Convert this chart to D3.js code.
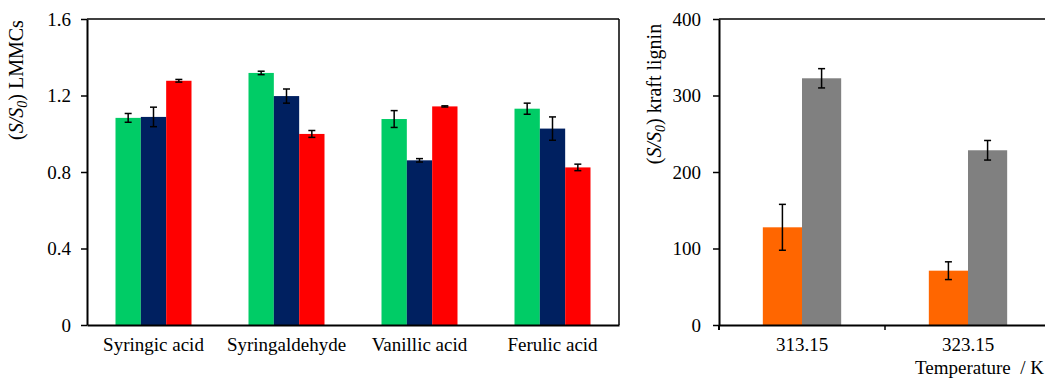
<!DOCTYPE html>
<html>
<head>
<meta charset="utf-8">
<script src="https://cdn.jsdelivr.net/npm/d3@7"></script>
<style>
  body { margin: 0; background: #fff; }
  svg { display: block; font-family: "Liberation Serif", "Times New Roman", serif; }
  .tick text { font-size: 19px; fill: #000; }
</style>
</head>
<body>
<div id="vis"></div>
<script>
// chart data
const CATEGORIES = ["Syringic acid", "Syringaldehyde", "Vanillic acid", "Ferulic acid"];
const SERIES_GREEN = [1.083, 1.318, 1.077, 1.131];
const ERR_GREEN = [0.023, 0.009, 0.044, 0.029];
const SERIES_NAVY = [1.088, 1.197, 0.861, 1.027];
const ERR_NAVY = [0.051, 0.037, 0.009, 0.061];
const SERIES_RED = [1.277, 0.999, 1.143, 0.824];
const ERR_RED = [0.007, 0.018, 0.003, 0.017];
const LEFT_TICKS = [0, 0.4, 0.8, 1.2, 1.6];

const TEMPS = ["313.15", "323.15"];
const SERIES_ORANGE = [127.7, 71];
const ERR_ORANGE = [30, 11.6];
const SERIES_GRAY = [322.5, 228.4];
const ERR_GRAY = [12.6, 12.8];
const RIGHT_TICKS = [0, 100, 200, 300, 400];

const WIDTH = 1045;
const HEIGHT = 378;

const SVG = d3.select('#vis')
              .append('svg')
                .attr('width', WIDTH)
                .attr('height', HEIGHT);

// draws one grouped bar panel with error bars
function drawPanel(opts) {
    const g = SVG.append('g');

    const X0 = d3.scaleBand()
                 .domain(opts.categories)
                 .range([opts.left, opts.right])
                 .paddingInner(opts.pad)
                 .paddingOuter(opts.pad / 2);

    const X1 = d3.scaleBand()
                 .domain(opts.series.map((s, i) => i))
                 .range([0, X0.bandwidth()]);

    const Y = d3.scaleLinear()
                .domain(opts.domain)
                .range([opts.bottom, opts.top]);

    // frame lines
    g.append('line')
        .attr('x1', opts.left).attr('x2', opts.right)
        .attr('y1', opts.top).attr('y2', opts.top)
        .attr('stroke', '#000').attr('stroke-width', 1.5);
    if (opts.rightBorder) {
        g.append('line')
            .attr('x1', opts.right).attr('x2', opts.right)
            .attr('y1', opts.top).attr('y2', opts.bottom)
            .attr('stroke', '#000').attr('stroke-width', 1.5);
    }

    opts.series.forEach((s, si) => {
        const rows = opts.categories.map((c, ci) => ({c: c, v: s.values[ci], e: s.errors[ci]}));
        const sg = g.append('g');

        sg.selectAll('rect')
            .data(rows)
            .enter().append('rect')
              .attr('x', (d) => X0(d.c) + X1(si))
              .attr('y', (d) => Y(d.v))
              .attr('width', X1.bandwidth())
              .attr('height', (d) => Y(0) - Y(d.v))
              .attr('fill', s.color);

        const eb = sg.selectAll('.err')
            .data(rows)
            .enter().append('g')
              .attr('class', 'err')
              .attr('transform', (d) => 'translate(' + (X0(d.c) + X1(si) + X1.bandwidth() / 2) + ',0)');
        eb.append('line')
            .attr('y1', (d) => Y(d.v + d.e)).attr('y2', (d) => Y(d.v - d.e))
            .attr('stroke', '#000').attr('stroke-width', 1.5);
        eb.append('line')
            .attr('x1', -3.5).attr('x2', 3.5)
            .attr('y1', (d) => Y(d.v + d.e)).attr('y2', (d) => Y(d.v + d.e))
            .attr('stroke', '#000').attr('stroke-width', 1.5);
        eb.append('line')
            .attr('x1', -3.5).attr('x2', 3.5)
            .attr('y1', (d) => Y(d.v - d.e)).attr('y2', (d) => Y(d.v - d.e))
            .attr('stroke', '#000').attr('stroke-width', 1.5);
    });

    // y axis
    const yAxis = g.append('g')
        .attr('transform', 'translate(' + opts.left + ',0)')
        .call(d3.axisLeft(Y)
                .tickValues(opts.ticks)
                .tickFormat(opts.tickFormat)
                .tickSize(6)
                .tickPadding(opts.tickPad)
                .tickSizeOuter(0))
        .attr('font-family', null)
        .attr('font-size', null);
    yAxis.select('.domain').attr('stroke-width', 2);
    yAxis.selectAll('.tick line').attr('stroke-width', 1.5);

    // x axis
    const xAxis = g.append('g')
        .attr('transform', 'translate(0,' + opts.bottom + ')')
        .call(d3.axisBottom(X0).tickSize(0).tickPadding(13).tickSizeOuter(0))
        .attr('font-family', null)
        .attr('font-size', null);
    xAxis.select('.domain').attr('stroke-width', 2);
    xAxis.selectAll('.tick text').attr('dy', '0.71em');

    if (opts.betweenTicks) {
        g.selectAll('.xsep')
            .data(opts.categories.slice(1))
            .enter().append('line')
              .attr('x1', (d) => X0(d) - X0.step() * opts.pad / 2)
              .attr('x2', (d) => X0(d) - X0.step() * opts.pad / 2)
              .attr('y1', opts.bottom).attr('y2', opts.bottom + 5)
              .attr('stroke', '#000').attr('stroke-width', 1.5);
        g.append('line')
            .attr('x1', opts.left).attr('x2', opts.left)
            .attr('y1', opts.bottom).attr('y2', opts.bottom + 5)
            .attr('stroke', '#000').attr('stroke-width', 2);
    }

    // rotated y label with italic S/S0
    const lab = g.append('text')
        .attr('transform', 'translate(' + opts.labelX + ',' + opts.labelY + ') rotate(-90)')
        .attr('text-anchor', 'middle')
        .attr('font-size', '20px');
    lab.append('tspan').text('(');
    lab.append('tspan').attr('font-style', 'italic').text('S/S');
    lab.append('tspan').attr('font-style', 'italic').attr('font-size', '14px').attr('dy', 4).text('0');
    lab.append('tspan').attr('dy', -4).text(')' + opts.labelRest);

    return g;
}

drawPanel({
    categories: CATEGORIES,
    series: [
        {values: SERIES_GREEN, errors: ERR_GREEN, color: '#00CC66'},
        {values: SERIES_NAVY, errors: ERR_NAVY, color: '#002060'},
        {values: SERIES_RED, errors: ERR_RED, color: '#FF0000'}
    ],
    domain: [0, 1.6],
    ticks: LEFT_TICKS,
    tickFormat: (d) => d === 0 ? '0' : d3.format('.1f')(d),
    tickPad: 10,
    left: 87, right: 619, top: 19, bottom: 325,
    pad: 0.4286,
    rightBorder: true,
    betweenTicks: false,
    labelX: 23, labelY: 80, labelRest: ' LMMCs'
});

const RIGHT = drawPanel({
    categories: TEMPS,
    series: [
        {values: SERIES_ORANGE, errors: ERR_ORANGE, color: '#FF6600'},
        {values: SERIES_GRAY, errors: ERR_GRAY, color: '#808080'}
    ],
    domain: [0, 400],
    ticks: RIGHT_TICKS,
    tickFormat: (d) => d,
    tickPad: 12,
    left: 719, right: 1051, top: 19, bottom: 325,
    pad: 0.528,
    rightBorder: true,
    betweenTicks: true,
    labelX: 661, labelY: 94, labelRest: ' kraft lignin'
});

RIGHT.append('text')
    .attr('x', 1044)
    .attr('y', 374)
    .attr('text-anchor', 'end')
    .attr('font-size', '19px')
    .attr('xml:space', 'preserve')
    .style('white-space', 'pre')
    .text('Temperature  / K');
</script>
</body>
</html>
